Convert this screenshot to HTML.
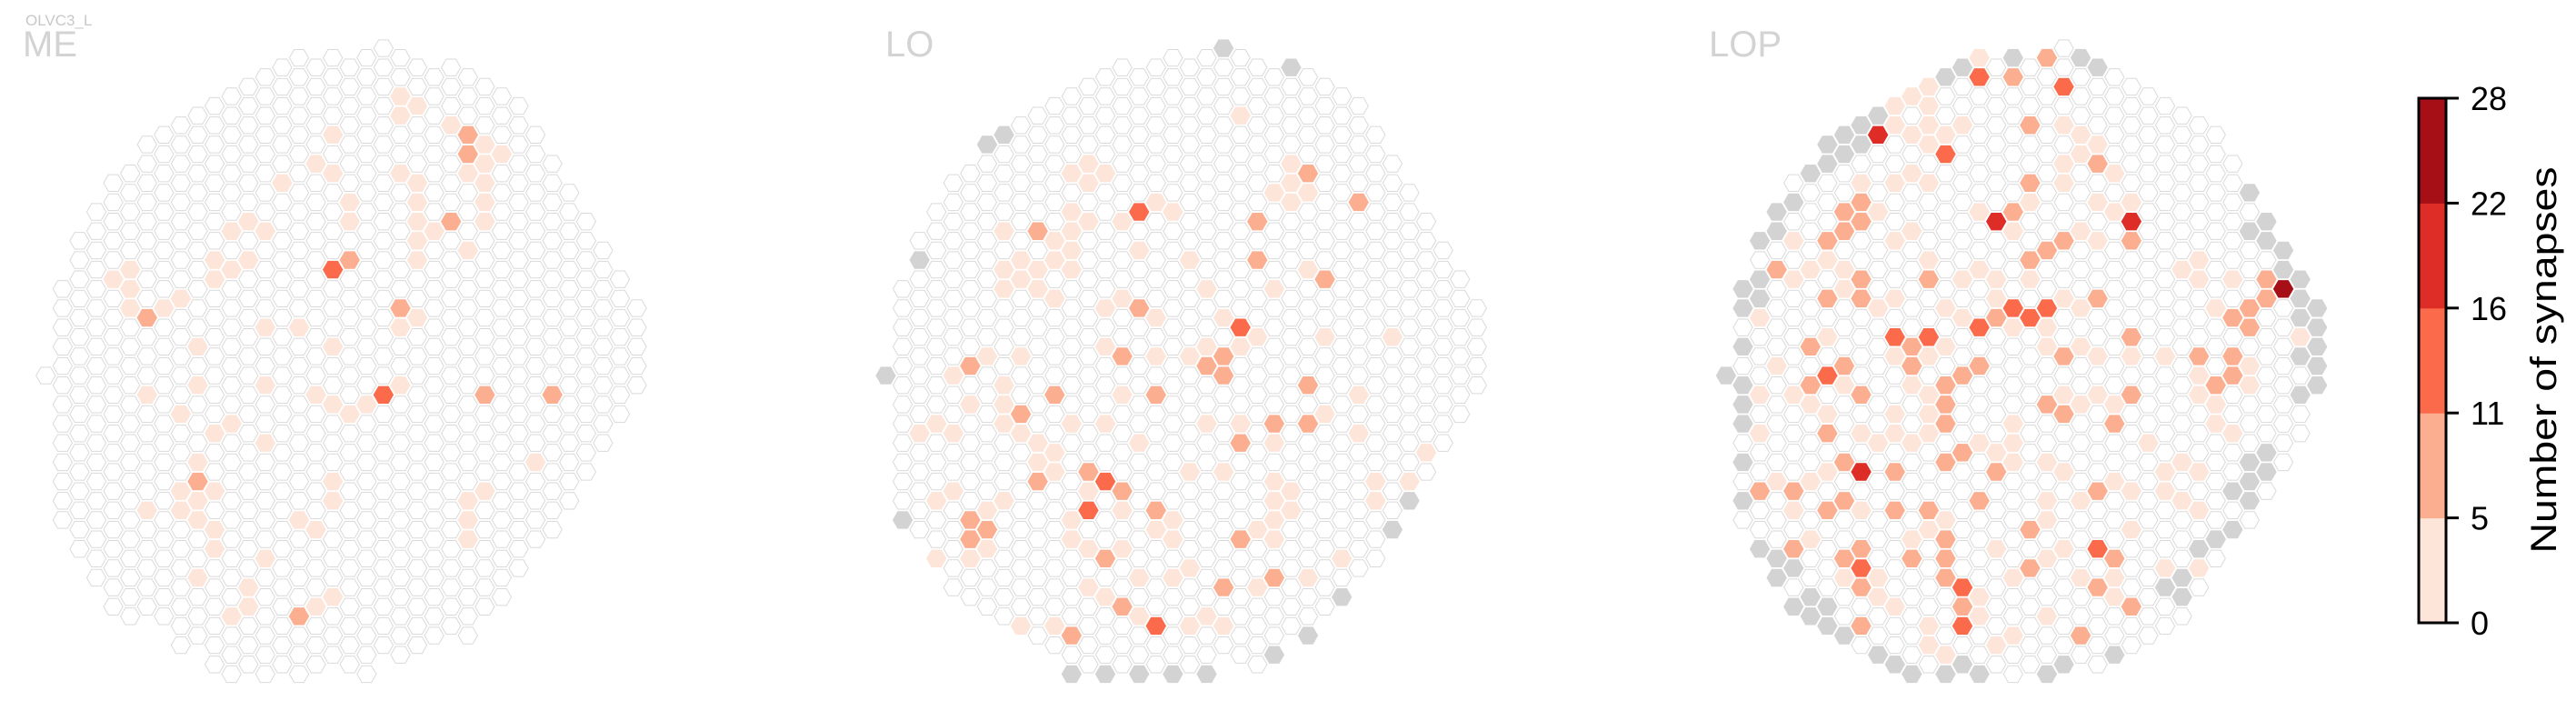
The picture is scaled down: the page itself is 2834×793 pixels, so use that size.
<!DOCTYPE html>
<html><head><meta charset="utf-8"><style>
html,body{margin:0;padding:0;background:#fff;}
svg{display:block;}
text{font-family:"Liberation Sans",sans-serif;}
</style></head><body>
<svg id="chart" width="2834" height="793" viewBox="0 0 2834 793" xmlns="http://www.w3.org/2000/svg">
<text x="28" y="28" font-size="17" fill="#c8c8c8">OLVC3_L</text>
<g id="panels"></g>
<g id="colorbar"></g>
</svg>
<script>
// ---- colorbar data ----
const cbBounds = [0, 5, 11, 16, 22, 28];
const cbColors = ["#fee5d9", "#fcae91", "#fb6a4a", "#de2d26", "#a50f15"];
const cbTitle = "Number of synapses";

// ---- panel names ----
const panelNames = ["ME", "LO", "LOP"];

// ---- grid column extents (top/bottom doubled-row index per column) ----
const meTop = [0,-9,-14,-17,-20,-21,-24,-26,-26,-28,-29,-30,-31,-32,-32,-33,-33,-33,-33,-33,-34,-33,-32,-31,-32,-31,-30,-29,-28,-25,-22,-19,-16,-13,-10,-7];
const meBot = [0,15,18,21,24,25,24,26,28,28,30,31,31,31,31,31,30,30,31,31,29,29,29,28,27,27,25,23,21,18,16,14,11,8,4,1];
const loTop = [0,-9,-14,-17,-20,-21,-24,-25,-26,-27,-28,-29,-30,-31,-32,-31,-32,-33,-32,-33,-34,-33,-32,-31,-32,-31,-30,-29,-28,-26,-23,-20,-17,-14,-10,-7];
const loBot = [0,15,16,19,22,23,24,25,26,27,28,31,30,31,30,31,30,31,30,31,29,29,30,29,27,27,25,23,21,19,16,13,10,7,4,1];
const lopTop = [0,-9,-14,-17,-20,-21,-24,-25,-26,-27,-28,-29,-30,-31,-32,-33,-32,-33,-32,-33,-34,-33,-32,-31,-30,-29,-28,-27,-26,-25,-22,-19,-16,-13,-10,-7];
const lopBot = [0,15,18,21,24,25,26,27,28,29,30,31,30,31,30,31,30,31,30,31,30,29,30,29,28,27,26,25,22,19,17,15,12,9,6,1];

// ---- gray (no data) cells ----
const loGrayCol = [20,24,7,6,2,0,1,31,30,27,25,23,11,13,15,17,19];
const loGrayRow = [-34,-32,-25,-24,-12,0,15,13,16,23,27,29,31,31,31,31,31];
const lopGrayCol = [17,21,14,22,13,9,8,7,8,6,7,6,5,4,3,3,2,2,1,2,1,1,0,1,1,1,1,1,2,3,4,3,5,4,6,5,6,7,9,10,11,13,14,15,19,20,23,31,32,31,32,33,33,34,34,35,34,35,35,34,35,35,34,32,31,32,31,30,31,30,29,28,27,26,27];
const lopGrayRow = [-33,-33,-32,-32,-31,-27,-26,-25,-24,-24,-23,-22,-21,-18,-17,-15,-14,-10,-9,-8,-7,-3,0,1,3,5,9,13,18,19,20,21,23,24,24,25,26,27,29,30,31,31,30,31,31,30,29,-19,-16,-15,-14,-13,-11,-10,-8,-7,-6,-5,-3,-2,-1,1,2,8,9,10,11,12,13,16,17,18,21,22,23];

// ---- synapse count cells ----
const meCol = [21,22,21,24,25,26,25,27,26,17,16,17,21,22,25,26,14,18,22,26,18,22,24,26,23,22,25,22,12,11,13,10,12,11,10,18,17,5,4,5,8,7,5,6,21,22,21,13,15,9,17,21,20,19,18,17,16,13,9,6,26,30,8,11,10,13,29,9,9,8,10,9,8,6,9,10,10,17,17,15,16,26,25,25,25,13,9,12,12,11,15,16,17];
const meRow = [-29,-28,-27,-26,-25,-24,-23,-23,-22,-25,-22,-21,-21,-20,-21,-20,-20,-18,-18,-18,-16,-16,-16,-16,-15,-14,-13,-12,-16,-15,-15,-12,-12,-11,-10,-12,-11,-11,-10,-9,-8,-7,-7,-6,-7,-6,-5,-5,-5,-3,-3,1,2,3,4,3,2,1,1,2,2,2,4,5,6,7,9,9,11,12,12,13,14,14,15,16,18,11,13,15,16,12,13,15,17,19,21,22,24,25,25,24,23];
const meVal = [3,3,3,3,8,3,8,3,3,3,3,3,3,3,3,3,3,3,3,3,3,3,8,3,3,3,3,3,3,3,3,3,3,3,3,8,13,3,3,3,3,3,3,8,8,3,3,3,3,3,3,3,13,3,3,3,3,3,3,3,8,8,3,3,3,3,3,3,8,3,3,3,3,3,3,3,3,3,3,3,3,3,3,3,3,3,3,3,3,3,8,3,3];

const loCol = [21,12,11,13,12,24,25,24,23,25,24,28,16,15,17,11,12,14,22,7,9,11,10,11,15,18,22,8,10,7,9,11,8,25,26,7,9,19,23,10,14,13,15,16,20,21,22,26,30,13,19,21,6,8,14,16,18,20,5,19,4,20,7,25,10,14,16,28,5,7,8,26,3,7,11,13,19,21,23,25,2,4,8,28,9,15,21,23,10,32,9,10,12,18,20,9,13,23,29,31,4,12,14,24,3,7,23,29,6,12,14,16,24,5,11,17,23,6,16,22,5,11,17,21,23,6,12,14,3,5,13,27,18,15,17,23,25,12,20,22,13,14,15,19,8,10,16,18,20,11];
const loRow = [-27,-22,-21,-21,-20,-22,-21,-20,-19,-19,-18,-18,-18,-17,-17,-17,-16,-16,-16,-15,-15,-15,-14,-13,-13,-12,-12,-12,-12,-11,-11,-11,-10,-11,-10,-9,-9,-9,-9,-8,-8,-7,-7,-6,-6,-5,-4,-4,-4,-3,-3,-3,-2,-2,-2,-2,-2,-2,-1,-1,0,0,1,1,2,2,2,2,3,3,4,4,5,5,5,5,5,5,5,5,6,6,6,6,7,7,7,7,8,8,9,10,10,10,10,11,11,11,11,11,12,12,12,12,13,13,13,13,14,14,14,14,14,15,15,15,15,16,16,16,17,17,17,17,17,18,18,18,19,19,19,19,20,21,21,21,21,22,22,22,23,24,25,25,26,26,26,26,26,27];
const loVal = [3,3,3,3,3,3,8,3,3,3,3,8,3,13,3,3,3,3,8,3,8,3,3,3,3,3,8,3,3,3,3,3,3,3,8,3,3,3,3,3,3,3,8,3,3,13,3,3,3,3,3,3,3,3,8,3,3,8,8,8,3,8,3,8,8,3,8,3,3,3,8,3,3,3,3,3,3,3,8,8,3,3,3,3,3,3,8,3,3,3,3,3,8,3,3,8,13,3,3,3,3,3,8,3,3,3,3,3,3,13,3,8,3,8,3,3,3,8,3,3,8,3,3,8,3,3,3,3,3,3,8,3,3,3,3,8,3,3,8,3,3,8,3,3,3,3,13,3,3,8];

const lopCol = [9,16,24,8,33,15,20,13,17,19,18,15,10,12,6,22,8,14,14,19,17,18,22,18,8,17,7,8,7,6,20,24,19,18,3,12,8,7,32,6,8,22,32,31,16,30,31,24,11,5,20,28,30,7,11,15,14,30,5,13,29,8,24,13,19,20,13,23,6,14,7,13,10,16,2,4,22,7,15,6,10,12,18,13,4,8,7,11,13,23,18,13,8,22,14,24,8,21,15,12,11,10,12,10,12,14,20,11,13,21,12,22,21,20,11,23,8,12,20,10,18,22,24,15,23,9,11,17,21,10,22,4,6,12,28,5,7,15,27,4,16,18,28,30,14,16,20,29,7,9,13,21,10,14,2,6,13,19,17,19,21,26,34,6,10,12,22,24,31,3,7,11,22,28,31,4,12,20,28,2,6,10,12,17,21,23,29,5,8,10,12,25,29,2,30,9,15,17,11,16,17,19,27,6,20,26,28,5,23,3,8,24,26,19,21,27,4,11,13,19,24,28,12,16,20,5,19,26,28,9,17,21,23,7,10,15,23,9,12,19,15,17,12,16,13];
const lopRow = [-25,-16,-16,10,-9,-31,-30,-23,-7,-7,-6,-5,-4,-4,0,18,20,22,26,-33,-31,-26,-22,-20,-18,-17,-17,-16,-15,-14,-14,-14,-13,-12,-11,-10,-10,-9,-10,-8,-8,-8,-8,-7,-6,-6,-5,-4,-3,-3,-2,-2,-2,-1,-1,-1,0,0,1,1,1,2,2,3,3,4,5,5,6,8,9,9,10,10,12,12,12,13,13,14,14,14,16,17,18,18,19,19,19,19,20,21,22,22,24,24,26,27,-33,-30,-29,-28,-28,-26,-26,-26,-26,-25,-25,-25,-24,-24,-23,-22,-22,-21,-21,-20,-20,-20,-18,-18,-18,-18,-17,-17,-15,-15,-15,-15,-14,-14,-12,-12,-12,-12,-11,-11,-11,-11,-10,-10,-10,-10,-10,-8,-8,-8,-9,-7,-7,-7,-9,-6,-6,-4,-4,-5,-5,-3,-3,-3,-4,-4,-2,-2,-2,-2,-2,-1,1,1,1,0,0,1,2,2,2,2,4,4,4,4,3,3,3,3,5,6,6,6,5,5,6,6,7,7,7,8,8,9,9,9,10,10,10,10,11,11,13,12,12,12,13,13,13,16,15,15,15,14,16,17,17,17,19,19,20,20,21,21,21,21,23,22,23,23,25,25,25,27,27,28,28,29];
const lopVal = [19,19,19,19,25,13,13,13,13,13,13,13,13,13,13,13,13,13,13,8,8,8,8,8,8,8,8,8,8,8,8,8,8,8,8,8,8,8,8,8,8,8,8,8,8,8,8,8,8,8,8,8,8,8,8,8,8,8,8,8,8,8,8,8,8,8,8,8,8,8,8,8,8,8,8,8,8,8,8,8,8,8,8,8,8,8,8,8,8,8,8,8,8,8,8,8,8,8,3,3,3,3,3,3,3,3,3,3,3,3,3,3,3,3,3,3,3,3,3,3,3,3,3,3,3,3,3,3,3,3,3,3,3,3,3,3,3,3,3,3,3,3,3,3,3,3,3,3,3,3,3,3,3,3,3,3,3,3,3,3,3,3,3,3,3,3,3,3,3,3,3,3,3,3,3,3,3,3,3,3,3,3,3,3,3,3,3,3,3,3,3,3,3,3,3,3,3,3,3,3,3,3,3,3,3,3,3,3,3,3,3,3,3,3,3,3,3,3,3,3,3,3,3,3,3,3,3,3,3,3,3,3,3,3,3,3,3,3,3,3,3,3,3,3,3,3,3,3,3,3,3,3];

// ---- layout ----
const NS = "http://www.w3.org/2000/svg";
const svg = document.getElementById("chart");
const panelsG = document.getElementById("panels");
const colStep = 18.58, rowHalf = 10.59, gridY0 = 413.1;
const panelX0 = [50.3, 974.5, 1898.9];
const labelX = [25, 974, 1880];
function px(p, k) { return panelX0[p] + colStep * k; }
function py(j) { return gridY0 + rowHalf * j; }
function colorFor(v) {
  for (let i = 0; i < cbColors.length; i++) if (v <= cbBounds[i + 1]) return cbColors[i];
  return cbColors[cbColors.length - 1];
}
function hexPts(cx, cy, r) {
  const pts = [];
  for (let a = 0; a < 6; a++) {
    const t = Math.PI / 3 * a;
    pts.push((cx + r * Math.cos(t)).toFixed(2) + "," + (cy + r * Math.sin(t)).toFixed(2));
  }
  return pts.join(" ");
}
function snap(k, j) { return ((k + j) % 2 === 0) ? j : j + 1; }

const tops = [meTop, loTop, lopTop], bots = [meBot, loBot, lopBot];
const grayC = [[], loGrayCol, lopGrayCol], grayR = [[], loGrayRow, lopGrayRow];
const cols = [meCol, loCol, lopCol], rows = [meRow, loRow, lopRow], vals = [meVal, loVal, lopVal];

for (let p = 0; p < 3; p++) {
  const g = document.createElementNS(NS, "g");
  
  
  panelsG.appendChild(g);
  const lab = document.createElementNS(NS, "text");
  lab.setAttribute("x", labelX[p]); lab.setAttribute("y", 62);
  lab.setAttribute("font-size", "40"); lab.setAttribute("fill", "#d3d3d3");
  lab.textContent = panelNames[p];
  
  
  g.appendChild(lab);
  const special = {};
  for (let i = 0; i < grayC[p].length; i++) special[grayC[p][i] + "_" + snap(grayC[p][i], grayR[p][i])] = "#d3d3d3";
  for (let i = 0; i < cols[p].length; i++) special[cols[p][i] + "_" + snap(cols[p][i], rows[p][i])] = colorFor(vals[p][i]);
  for (let k = 0; k < 36; k++) {
    for (let j = tops[p][k]; j <= bots[p][k]; j++) {
      if ((k + j) % 2 !== 0) continue;
      const key = k + "_" + j;
      if (special[key]) continue;
      const h = document.createElementNS(NS, "polygon");
      h.setAttribute("points", hexPts(px(p, k), py(j), 10.6));
      h.setAttribute("fill", "#fff"); h.setAttribute("stroke", "#dadada"); h.setAttribute("stroke-width", "1");
      
      
      g.appendChild(h);
    }
  }
  for (const key in special) {
    const [k, j] = key.split("_").map(Number);
    const h = document.createElementNS(NS, "polygon");
    h.setAttribute("points", hexPts(px(p, k), py(j), 11.2));
    h.setAttribute("fill", special[key]);
    
    
    g.appendChild(h);
  }
}

// ---- colorbar ----
const cb = document.getElementById("colorbar");
const cbX = 2661, cbW = 30, cbTop = 108, cbBot = 685;
const seg = (cbBot - cbTop) / cbColors.length;
for (let i = 0; i < cbColors.length; i++) {
  const r = document.createElementNS(NS, "rect");
  r.setAttribute("x", cbX); r.setAttribute("y", cbBot - seg * (i + 1));
  r.setAttribute("width", cbW); r.setAttribute("height", seg + 0.5);
  r.setAttribute("fill", cbColors[i]);
  
  
  cb.appendChild(r);
}
const frame = document.createElementNS(NS, "rect");
frame.setAttribute("x", cbX); frame.setAttribute("y", cbTop); frame.setAttribute("width", cbW); frame.setAttribute("height", cbBot - cbTop);
frame.setAttribute("fill", "none"); frame.setAttribute("stroke", "#000"); frame.setAttribute("stroke-width", "3");


cb.appendChild(frame);
for (let i = 0; i < cbBounds.length; i++) {
  const y = cbBot - seg * i;
  const t = document.createElementNS(NS, "line");
  t.setAttribute("x1", cbX + cbW); t.setAttribute("x2", cbX + cbW + 14);
  t.setAttribute("y1", y); t.setAttribute("y2", y);
  t.setAttribute("stroke", "#000"); t.setAttribute("stroke-width", "3");
  
  
  cb.appendChild(t);
  const tx = document.createElementNS(NS, "text");
  tx.setAttribute("x", 2718); tx.setAttribute("y", y + 13);
  tx.setAttribute("font-size", "36"); tx.setAttribute("fill", "#000");
  tx.textContent = String(cbBounds[i]);
  
  
  cb.appendChild(tx);
}
const ttl = document.createElementNS(NS, "text");
ttl.setAttribute("transform", "translate(2812,396) rotate(-90)");
ttl.setAttribute("text-anchor", "middle"); ttl.setAttribute("font-size", "40");
ttl.setAttribute("textLength", "425"); ttl.setAttribute("lengthAdjust", "spacingAndGlyphs");
ttl.textContent = cbTitle;


cb.appendChild(ttl);
</script>
</body></html>
